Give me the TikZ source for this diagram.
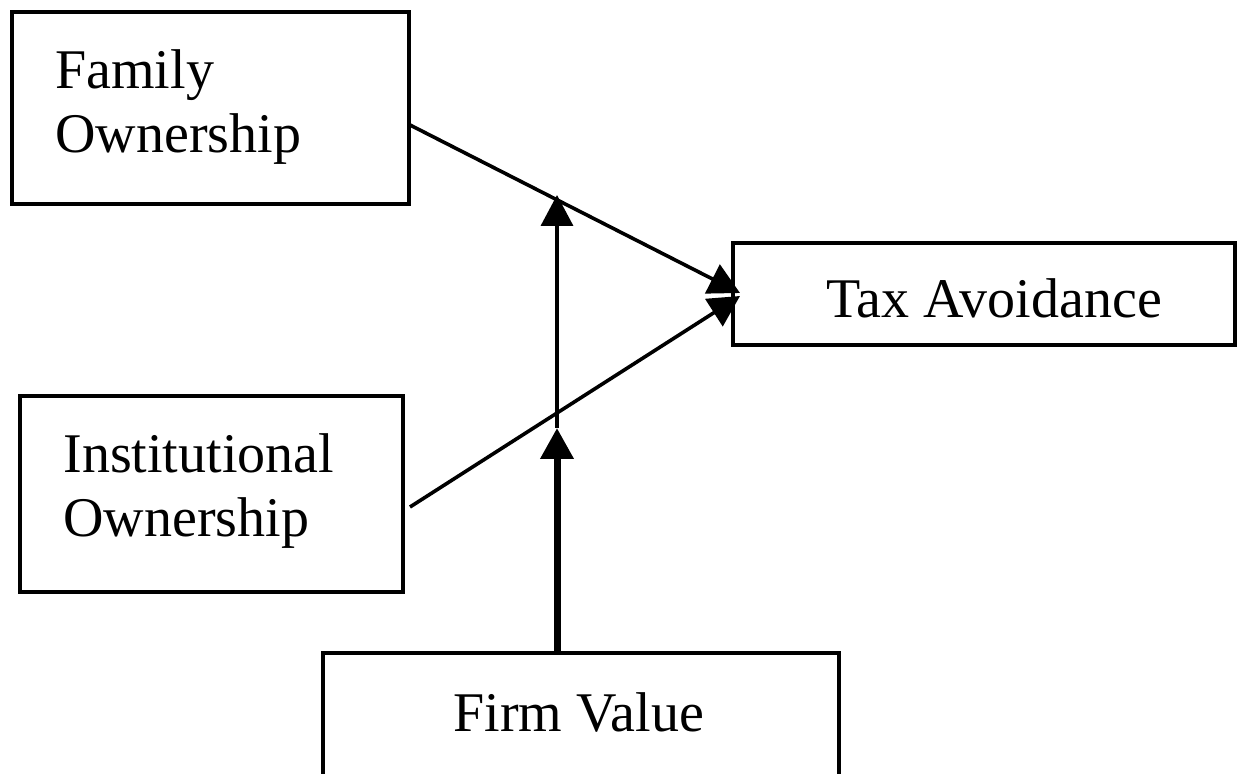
\documentclass[tikz,border=0pt]{standalone}
\usepackage{fontspec}
\setmainfont{Liberation Serif}
\usetikzlibrary{arrows.meta}
\begin{document}
\begin{tikzpicture}[x=0.5pt,y=-0.5pt,
  box/.style={draw,line width=2pt,inner sep=0pt},
  lbl/.style={anchor=base west,inner sep=0pt,font=\fontsize{28pt}{32pt}\selectfont},
  conn/.style={line width=1.8pt,-{Triangle[width=16pt,length=15.5pt]}},
  thick conn/.style={line width=3.5pt,-{Triangle[width=16pt,length=15.5pt]}}]
\useasboundingbox (0,0) rectangle (1237,774);
\node[box,minimum width=198.5pt,minimum height=96pt] (family) at (210.5,108) {};
\node[box,minimum width=191.5pt,minimum height=98pt] (inst) at (211.5,494) {};
\node[box,minimum width=251pt,minimum height=51pt] (tax) at (984,294) {};
\node[box,minimum width=258pt,minimum height=74pt] (firm) at (581,727) {};
\node[lbl] (f1) at (55,89) {Family};
\node[lbl] (f2) at (55,153) {Ownership};
\node[lbl] (i1) at (63,473) {Institutional};
\node[lbl] (i2) at (63,537) {Ownership};
\node[lbl] (t1) at (826,318) {Tax Avoidance};
\node[lbl] (v1) at (453,731) {Firm Value};
\coordinate (fs) at (410,125);
\coordinate (is) at (410,507);
\coordinate (ft) at (740,293);
\coordinate (it) at (740,296);
\coordinate (fv) at (557,653);
\coordinate (mid) at (557,428);
\coordinate (top) at (557,195);
\draw[conn] (fs) -- (ft);
\draw[conn] (is) -- (it);
\draw[conn] (mid) -- (top);
\draw[thick conn] (fv) -- (mid);
\end{tikzpicture}
\end{document}
